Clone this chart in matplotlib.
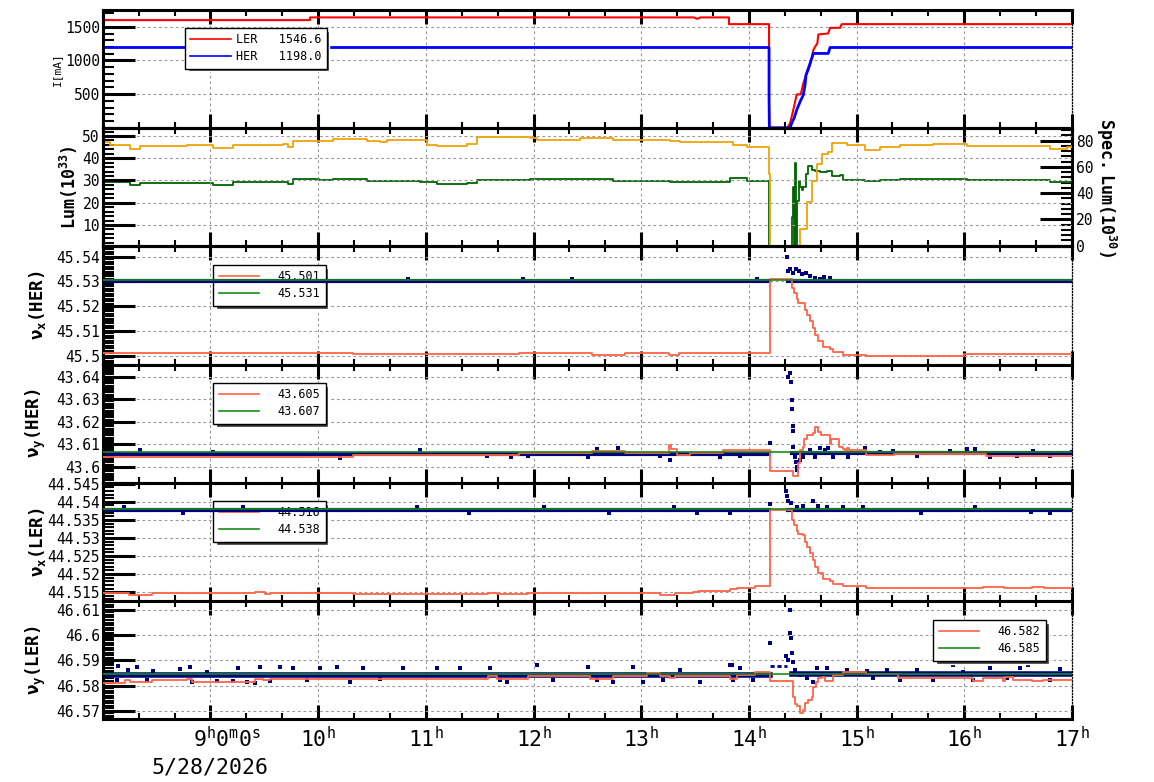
import numpy as np
import matplotlib
matplotlib.use('Agg')
import matplotlib.pyplot as plt
from matplotlib.ticker import AutoMinorLocator, FuncFormatter, MultipleLocator
from matplotlib.lines import Line2D
from matplotlib.transforms import blended_transform_factory, ScaledTranslation

plt.rcParams['font.family'] = ['DejaVu Sans Mono', 'DejaVu Sans']
plt.rcParams['mathtext.fontset'] = 'custom'
plt.rcParams['mathtext.rm'] = 'DejaVu Sans Mono'
plt.rcParams['mathtext.it'] = 'DejaVu Sans Mono'
plt.rcParams['mathtext.bf'] = 'DejaVu Sans Mono:bold'

nan = np.nan

# ---- beam currents [mA], time in hours ----
ler_t = [8.0, 9.925, 9.925, 13.49, 13.52, 13.55, 13.815, 13.815, 14.187, 14.187, 14.19, 14.357,
         14.382, 14.397, 14.419, 14.444, 14.481, 14.505, 14.530, 14.552, 14.567, 14.583, 14.598,
         14.614, 14.635, 14.645, 14.737, 14.753, 14.846, 14.862, 17.0]
ler_i = [1600, 1600, 1640, 1640, 1618, 1640, 1640, 1540, 1540, 380, 0, 0,
         67, 165, 313, 497, 497, 660, 783, 858, 932, 1031, 1154,
         1203, 1254, 1387, 1402, 1485, 1485, 1540, 1540]
her_t = [8.0, 14.187, 14.187, 14.19, 14.382, 14.397, 14.419, 14.444, 14.475, 14.505, 14.521,
         14.530, 14.552, 14.573, 14.598, 14.737, 14.746, 14.753, 17.0]
her_i = [1193, 1193, 450, 0, 0, 67, 141, 264, 387, 487, 635,
         783, 883, 981, 1105, 1105, 1154, 1193, 1193]
cur_labels = ['LER   1546.6', 'HER   1198.0']

# ---- luminosity (left) and specific luminosity (right) ----
lum_t = [8.0, 8.068, 8.253, 8.346, 8.78, 9.024, 9.21, 9.674, 9.721, 9.767, 10.008, 10.138,
         10.454, 10.575, 10.64, 10.881, 11.011, 11.104, 11.383, 11.475, 11.968, 12.033, 12.432,
         12.739, 13.268, 13.361, 13.825, 13.853, 13.983, 14.178, 14.187, 14.196, 14.444, 14.475,
         14.537, 14.583, 14.630, 14.676, 14.737, 14.769, 14.908, 15.078, 15.217, 15.403, 15.709,
         16.022, 16.334, 16.64, 16.798, 16.951, 17.0]
lum_v = [47.2, 46.1, 44.2, 45.7, 46.1, 44.6, 46.1, 46.4, 44.9, 47.6, 47.9, 48.7,
         47.6, 47.2, 48.3, 48.3, 46.1, 45.4, 46.4, 49.5, 49.2, 48.3, 49.2,
         48.3, 47.9, 47.2, 47.2, 46.1, 44.9, 44.9, 32.7, 0.0, 0.0, 8.4,
         20.5, 29.7, 37.3, 42.1, 42.6, 46.7, 46.1, 43.9, 44.9, 46.1, 46.4,
         45.5, 45.5, 45.5, 44.2, 44.9, 45.3]
spec_t = [8.0, 8.068, 8.253, 8.346, 9.024, 9.21, 9.674, 9.721, 9.767, 10.008, 10.138, 10.454,
          10.64, 10.946, 11.104, 11.383, 11.475, 11.968, 12.432, 12.739, 13.268, 13.668, 13.825,
          13.983, 14.178, 14.187, 14.388, 14.397, 14.412, 14.421, 14.428, 14.437, 14.449, 14.462,
          14.475, 14.490, 14.505, 14.530, 14.551, 14.583, 14.613, 14.660, 14.722, 14.769, 14.846,
          14.877, 15.078, 15.217, 15.403, 15.709, 16.022, 16.334, 16.64, 16.798, 17.0]
spec_v = [48.5, 48.2, 46.5, 47.8, 46.5, 48.2, 48.2, 47.0, 50.8, 50.0, 50.8, 49.0,
          49.0, 48.2, 47.0, 47.4, 50.3, 50.8, 50.8, 49.5, 48.2, 48.2, 51.6,
          49.5, 49.5, 0.0, 0.0, 21.6, 44.4, 0.0, 62.7, 0.0, 34.3, 49.6,
          44.4, 42.4, 44.4, 54.6, 60.9, 57.7, 57.1, 55.8, 56.6, 53.3, 54.1,
          50.1, 49.0, 50.1, 50.8, 50.8, 50.0, 50.0, 50.0, 48.2, 49.5]

# ---- nu_x(HER) ----
hx_set_t = [8.0, 10.32, 11.87, 12.54, 12.85, 13.26, 13.35, 14.196, 14.397, 14.419, 14.444, 14.46,
            14.505, 14.521, 14.537, 14.567, 14.598, 14.614, 14.645, 14.691, 14.753, 14.784, 14.877,
            15.085, 16.0, 17.0]
hx_set_v = [45.501, 45.5006, 45.501, 45.5004, 45.501, 45.5004, 45.501, 45.5311, 45.5275, 45.5254,
            45.5228, 45.5214, 45.5212, 45.5184, 45.5164, 45.5138, 45.5110, 45.5084, 45.5058,
            45.5033, 45.5027, 45.5015, 45.5004, 45.4997, 45.5005, 45.5005]
hx_meas_t = [8.0, 14.19, 14.19, 14.36, 17.0]
hx_meas_v = [45.5301, 45.5301, nan, 45.5302, 45.5302]
hx_out_t = [10.838, 11.905, 12.355, 14.072, 14.354, 14.363, 14.382, 14.410, 14.437, 14.465,
            14.493, 14.530, 14.567, 14.614, 14.660, 14.70, 14.75]
hx_out_v = [45.531, 45.531, 45.531, 45.531, 45.54, 45.5343, 45.5351, 45.5335, 45.5351, 45.5343,
            45.5331, 45.5335, 45.5323, 45.5315, 45.5311, 45.5318, 45.5312]
hx_ref = 45.5307
hx_labels = ['45.501', '45.531']

# ---- nu_y(HER) ----
hy_set_t = [8.0, 10.32, 11.87, 12.54, 12.85, 13.26, 13.275, 13.33, 13.45, 13.76, 14.195, 14.407,
            14.453, 14.475, 14.50, 14.516, 14.54, 14.593, 14.614, 14.639, 14.67, 14.753, 14.76,
            14.84, 14.877, 14.893, 14.908, 14.933, 15.084, 15.344, 16.2, 17.0]
hy_set_v = [43.6043, 43.6053, 43.6063, 43.6072, 43.6063, 43.6096, 43.6081, 43.6053, 43.6063,
            43.6077, 43.5982, 43.5960, 43.6015, 43.6075, 43.6087, 43.6122, 43.6141, 43.6152,
            43.6178, 43.6156, 43.6141, 43.6101, 43.6122, 43.6087, 43.6078, 43.6072, 43.6085,
            43.6075, 43.6053, 43.6058, 43.6050, 43.6050]
hy_meas_t = [8.0, 14.19, 14.19, 14.40, 17.0]
hy_meas_v = [43.6057, 43.6057, nan, 43.6062, 43.6062]
hy_out_t = [8.346, 9.024, 10.20, 10.946, 11.565, 11.790, 11.945, 12.509, 12.587, 12.787, 13.175,
            13.268, 13.732, 13.915, 14.196, 14.366, 14.382, 14.388, 14.397, 14.397, 14.406, 14.406,
            14.412, 14.428, 14.437, 14.444, 14.449, 14.475, 14.505, 14.537, 14.567, 14.614, 14.660,
            14.707, 14.737, 14.784, 14.846, 14.924, 15.001, 15.078, 15.217, 15.341, 15.558, 15.867,
            16.022, 16.099, 16.239, 16.487, 16.640, 16.796, 16.997]
hy_out_v = [43.6075, 43.6068, 43.6039, 43.6075, 43.6049, 43.6046, 43.6050, 43.6046, 43.6078,
            43.6083, 43.6049, 43.6031, 43.6046, 43.6050, 43.6108, 43.6400, 43.6415, 43.6378,
            43.6297, 43.6257, 43.6182, 43.6161, 43.6090, 43.6046, 43.6023, 43.6001, 43.5987,
            43.6031, 43.6046, 43.6061, 43.6075, 43.6046, 43.6083, 43.6075, 43.6083, 43.6046,
            43.6061, 43.6046, 43.6061, 43.6083, 43.6068, 43.6072, 43.6050, 43.6072, 43.6078,
            43.6078, 43.6046, 43.6050, 43.6072, 43.6050, 43.6068]
hy_ref = 43.6065
hy_labels = ['43.605', '43.607']

# ---- nu_x(LER) ----
lx_set_t = [8.0, 8.24, 8.46, 9.414, 9.507, 9.55, 10.32, 11.58, 11.66, 11.95, 13.175, 13.31, 13.48,
            13.53, 13.825, 13.887, 14.057, 14.196, 14.397, 14.419, 14.444, 14.46, 14.505, 14.521,
            14.537, 14.567, 14.598, 14.614, 14.645, 14.691, 14.753, 14.784, 14.877, 15.085, 16.17,
            16.37, 16.63, 16.74, 17.0]
lx_set_v = [44.5147, 44.5143, 44.5147, 44.5150, 44.5146, 44.5148, 44.5145, 44.5147, 44.5145,
            44.5147, 44.5143, 44.5147, 44.5150, 44.5153, 44.5158, 44.5161, 44.5166, 44.5377,
            44.5350, 44.5336, 44.5318, 44.5311, 44.5309, 44.5290, 44.5276, 44.5258, 44.5239,
            44.5221, 44.5203, 44.5186, 44.5182, 44.5173, 44.5166, 44.5161, 44.5163, 44.5161,
            44.5163, 44.5161, 44.5161]
lx_meas_t = [8.0, 14.19, 14.19, 14.36, 17.0]
lx_meas_v = [44.5376, 44.5376, nan, 44.5377, 44.5377]
lx_out_t = [8.20, 8.75, 9.30, 10.92, 11.40, 12.10, 12.70, 13.30, 13.52, 13.825, 14.196, 14.344,
            14.351, 14.366, 14.388, 14.444, 14.505, 14.598, 14.645, 14.722, 14.877, 15.060, 15.60,
            16.10, 16.62, 16.796]
lx_out_v = [44.5385, 44.5370, 44.5385, 44.5387, 44.5369, 44.5385, 44.5370, 44.5385, 44.5369,
            44.5369, 44.5394, 44.5431, 44.5415, 44.5401, 44.5396, 44.5387, 44.5389, 44.5401,
            44.5389, 44.5387, 44.5387, 44.5385, 44.5370, 44.5385, 44.5372, 44.5369]
lx_ref = 44.5380
lx_labels = ['44.516', '44.538']

# ---- nu_y(LER) ----
ly_set_t = [8.0, 8.207, 8.253, 8.455, 8.78, 8.826, 9.414, 9.49, 9.553, 11.58, 11.66, 11.95,
            12.525, 12.74, 13.05, 13.17, 13.27, 13.31, 13.825, 13.887, 14.057, 14.196, 14.412,
            14.428, 14.449, 14.475, 14.50, 14.521, 14.552, 14.583, 14.598, 14.623, 14.645, 14.676,
            14.707, 14.778, 14.877, 15.085, 15.382, 16.078, 16.177, 16.357, 16.378, 16.455,
            16.626, 16.734, 17.0]
ly_set_v = [46.5811, 46.5821, 46.5813, 46.5821, 46.5827, 46.5815, 46.5827, 46.5821, 46.5827,
            46.5837, 46.5827, 46.5837, 46.5827, 46.5837, 46.5852, 46.5837, 46.5829, 46.5837,
            46.5827, 46.5842, 46.5855, 46.5819, 46.5757, 46.5728, 46.5720, 46.5690, 46.5703,
            46.5730, 46.5743, 46.5757, 46.5796, 46.5816, 46.5830, 46.5834, 46.5820, 46.5842,
            46.5855, 46.5845, 46.5829, 46.5820, 46.5831, 46.5820, 46.5834, 46.5824, 46.5820,
            46.5824, 46.5824]
ly_meas_t = [8.0, 14.196, 14.196, 14.40, 17.0]
ly_meas_v = [46.5844, 46.5844, nan, 46.5845, 46.5845]
ly_beamoff_t = [14.196, 14.35]
ly_beamoff_v = [46.5878, 46.5878]
ly_out_t = [8.145, 8.238, 8.136, 8.316, 8.409, 8.470, 8.718, 8.811, 8.826, 8.966, 9.058, 9.213,
            9.259, 9.337, 9.414, 9.461, 9.553, 9.646, 9.770, 9.894, 10.018, 10.173, 10.296, 10.420,
            10.575, 10.791, 11.101, 11.317, 11.596, 11.689, 11.751, 12.030, 12.184, 12.509, 12.587,
            12.741, 12.927, 13.020, 13.205, 13.360, 13.546, 13.825, 13.840, 13.855, 13.918, 14.041,
            14.196, 14.344, 14.366, 14.382, 14.382, 14.388, 14.397, 14.412, 14.428, 14.475, 14.537,
            14.598, 14.630, 14.722, 14.908, 15.094, 15.155, 15.280, 15.403, 15.558, 15.712, 15.898,
            15.991, 16.084, 16.239, 16.394, 16.517, 16.594, 16.796, 16.889]
ly_out_v = [46.5879, 46.5862, 46.5823, 46.5875, 46.5823, 46.5860, 46.5865, 46.5875, 46.5816,
            46.5856, 46.5819, 46.5819, 46.5871, 46.5816, 46.5810, 46.5875, 46.5819, 46.5873,
            46.5869, 46.5823, 46.5869, 46.5875, 46.5816, 46.5869, 46.5826, 46.5869, 46.5869,
            46.5869, 46.5869, 46.5823, 46.5816, 46.5882, 46.5823, 46.5875, 46.5823, 46.5816,
            46.5875, 46.5816, 46.5823, 46.5862, 46.5816, 46.5882, 46.5882, 46.5823, 46.5869,
            46.5823, 46.5970, 46.5918, 46.5902, 46.6100, 46.6008, 46.5988, 46.5929, 46.5895,
            46.5862, 46.5843, 46.5830, 46.5816, 46.5869, 46.5869, 46.5862, 46.5860, 46.5830,
            46.5862, 46.5823, 46.5862, 46.5823, 46.5882, 46.5856, 46.5823, 46.5869, 46.5830,
            46.5869, 46.5882, 46.5823, 46.5865]
ly_ref = 46.5848
ly_labels = ['46.582', '46.585']

first_tick_label = r'$\mathrm{9^{h}0^{m}0^{s}}$'
date_label = '5/28/2026'

RED = '#ff6347'
GREEN = '#1a8a1a'
NAVY = '#00007f'

W, H = 1154, 782
fig = plt.figure(figsize=(W / 100, H / 100), dpi=100)
left_px, right_px, top_px, bot_px = 102.7, 1072.0, 10.0, 719.0
ph = (bot_px - top_px) / 6
axes = []
for i in range(6):
    y0 = top_px + (i + 1) * ph
    axes.append(fig.add_axes([left_px / W, 1 - y0 / H, (right_px - left_px) / W, ph / H]))


def fmt(v, p):
    return '%g' % v


def style_axis(ax, yticks, ylim, nminor):
    ax.set_xlim(8, 17)
    ax.set_ylim(ylim)
    ax.set_yticks(yticks)
    ax.xaxis.set_major_locator(MultipleLocator(1))
    ax.xaxis.set_minor_locator(MultipleLocator(1 / 3))
    ax.yaxis.set_minor_locator(AutoMinorLocator(nminor))
    ax.yaxis.set_major_formatter(FuncFormatter(fmt))
    ax.tick_params(axis='x', which='major', direction='in', top=True, bottom=True,
                   length=10, width=2.2, labelbottom=False)
    ax.tick_params(axis='x', which='minor', direction='in', top=True, bottom=True,
                   length=4, width=1.5)
    ax.tick_params(axis='y', which='major', direction='in', left=True, right=False,
                   length=23, width=2.2, labelsize=10.5, pad=2)
    ax.tick_params(axis='y', which='minor', direction='in', left=True, right=False,
                   length=8, width=1.5)
    ax.grid(True, which='major', color='#999999', linestyle=(0, (2.5, 2.5)), linewidth=0.8)
    for s in ['left', 'top', 'bottom']:
        ax.spines[s].set_linewidth(2.2)
    ax.spines['right'].set_linestyle((0, (1, 1.5)))
    ax.spines['right'].set_linewidth(0.9)


def tune_legend(ax, labels, x, y, front=False):
    handles = [Line2D([], [], color=RED, lw=1.2), Line2D([], [], color=GREEN, lw=1.2)]
    leg = ax.legend(handles, labels, loc='upper left', bbox_to_anchor=(x, y), borderaxespad=0,
                    fontsize=8.5, handlelength=3.4, handletextpad=1.6, labelspacing=0.35,
                    borderpad=0.45, fancybox=False, framealpha=1, edgecolor='black',
                    shadow={'facecolor': '0.2', 'alpha': 1, 'shade': 0})
    leg.get_frame().set_linewidth(1.0)
    if not front:
        leg.set_zorder(1.6)
    return leg


# panel 1: currents
ax = axes[0]
style_axis(ax, [500, 1000, 1500], (-5, 1750), 5)
ax.plot(ler_t, ler_i, color='#ff0000', lw=1.5)
ax.plot(her_t, her_i, color='#0000ff', lw=2.0)
ax.set_ylabel('I[mA]', fontsize=8)
ax.yaxis.set_label_coords(-0.042, 0.5)
h1 = [Line2D([], [], color='#ff0000', lw=1.2), Line2D([], [], color='#0000ff', lw=1.2)]
leg = ax.legend(h1, cur_labels, loc='upper left', bbox_to_anchor=(0.085, 0.848), borderaxespad=0,
                fontsize=8.5, handlelength=3.4, handletextpad=0.45, labelspacing=0.35,
                borderpad=0.45, fancybox=False, framealpha=1, edgecolor='black',
                shadow={'facecolor': '0.2', 'alpha': 1, 'shade': 0})
leg.get_frame().set_linewidth(1.0)

# panel 2: luminosity
ax = axes[1]
axr = ax.twinx()
style_axis(ax, [10, 20, 30, 40, 50], (0.4, 53.5), 5)
axr.set_ylim(-0.5, 89.5)
axr.set_yticks([0, 20, 40, 60, 80])
axr.yaxis.set_minor_locator(AutoMinorLocator(5))
axr.tick_params(axis='y', which='major', direction='in', length=23, width=2.2, labelsize=10.5, pad=3)
axr.tick_params(axis='y', which='minor', direction='in', length=8, width=1.5)
for s in ['left', 'top', 'bottom', 'right']:
    axr.spines[s].set_linewidth(2.2)
ax.set_zorder(axr.get_zorder() + 1)
ax.patch.set_visible(False)
axr.plot(spec_t, spec_v, color='#006400', lw=1.3, drawstyle='steps-post')
ax.plot(lum_t, lum_v, color='#f0a30a', lw=1.3, drawstyle='steps-post')
ax.set_ylabel(r'$\mathbf{Lum(10^{33})}$', fontsize=12)
ax.yaxis.set_label_coords(-0.023, 0.5)
axr.set_ylabel(r'$\mathbf{Spec.\ Lum(10^{30})}$', fontsize=12, rotation=270, va='bottom')
axr.yaxis.set_label_coords(1.023, 0.5)

# tune panels
tune_panels = [
    (hx_meas_t, hx_meas_v, hx_out_t, hx_out_v, hx_set_t, hx_set_v, hx_ref, hx_labels,
     [45.5, 45.51, 45.52, 45.53, 45.54], (45.4964, 45.5442), 10, r'$\mathbf{\nu_x(HER)}$', (0.114, 0.842)),
    (hy_meas_t, hy_meas_v, hy_out_t, hy_out_v, hy_set_t, hy_set_v, hy_ref, hy_labels,
     [43.6, 43.61, 43.62, 43.63, 43.64], (43.5930, 43.6454), 10, r'$\mathbf{\nu_y(HER)}$', (0.114, 0.843)),
    (lx_meas_t, lx_meas_v, lx_out_t, lx_out_v, lx_set_t, lx_set_v, lx_ref, lx_labels,
     [44.515, 44.52, 44.525, 44.53, 44.535, 44.54, 44.545], (44.5126, 44.5453), 5,
     r'$\mathbf{\nu_x(LER)}$', (0.114, 0.845)),
    (ly_meas_t, ly_meas_v, ly_out_t, ly_out_v, ly_set_t, ly_set_v, ly_ref, ly_labels,
     [46.57, 46.58, 46.59, 46.6, 46.61], (46.5668, 46.6136), 10, r'$\mathbf{\nu_y(LER)}$', (0.857, 0.838)),
]
for k, (mt, mv, ot, ov, st, sv, ref, labels, yt, yl, nmin, ylab, lpos) in enumerate(tune_panels):
    ax = axes[k + 2]
    style_axis(ax, yt, yl, nmin)
    ax.plot(mt, mv, color=NAVY, lw=4.0 if k == 3 else 3.0, zorder=2)
    ax.plot(ot, ov, 's', color=NAVY, ms=2.3, mew=0, zorder=2)
    if k == 3:
        ax.plot(ly_beamoff_t, ly_beamoff_v, color=NAVY, lw=2.0, linestyle=(0, (1.5, 1)), zorder=2)
    ax.plot(st, sv, color=RED, lw=1.3, drawstyle='steps-post', zorder=3)
    ax.axhline(ref, color=GREEN, lw=1.2, zorder=4)
    ax.set_ylabel(ylab, fontsize=12.5)
    ax.yaxis.set_label_coords(-0.056, 0.5)
    tune_legend(ax, labels, lpos[0], lpos[1], front=(k == 3))

# time axis labels on the bottom panel
ax = axes[5]


def hour_fmt(v, p):
    h = int(round(v))
    if h <= 9:
        return ''
    return r'$\mathrm{%d^{h}}$' % h


ax.xaxis.set_major_formatter(FuncFormatter(hour_fmt))
ax.tick_params(axis='x', which='major', labelbottom=True, labelsize=15.5, pad=5)
trans = blended_transform_factory(ax.transData, ax.transAxes)
ax.text(9, 0, first_tick_label, transform=trans + ScaledTranslation(0.17, -0.07, fig.dpi_scale_trans),
        ha='center', va='top', fontsize=15.5)
ax.text(9, -0.33, date_label, transform=trans, ha='center', va='top', fontsize=15.5)

fig.savefig('out.png', dpi=100)
